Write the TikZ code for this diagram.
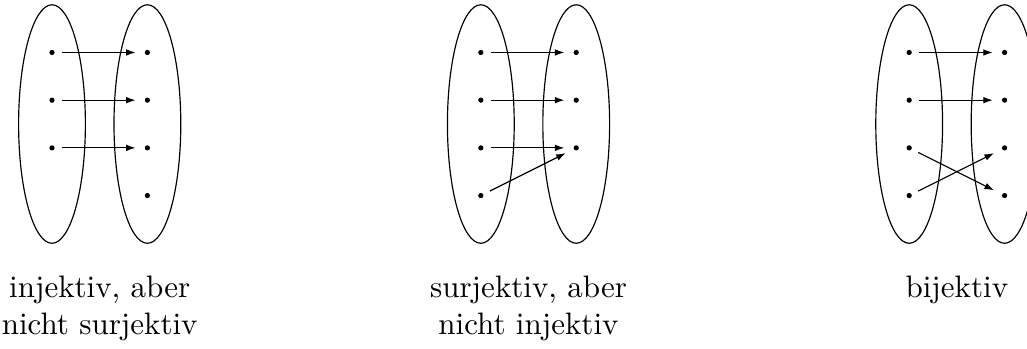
\documentclass[tikz,border=0pt]{standalone}
\usetikzlibrary{arrows.meta}
\begin{document}
\begin{tikzpicture}[
  dotnode/.style={circle,fill=black,inner sep=0pt,minimum size=0.11cm},
  arr/.style={-{Latex[length=0.2cm,width=0.14cm]},line width=0.7pt,shorten <=0.15cm,shorten >=0.185cm},
  setell/.style={draw,line width=0.7pt},
  lbl/.style={align=center,inner sep=0pt,scale=1.85,transform shape,anchor=base}
]
\useasboundingbox (0,0) rectangle (21.53,-7.3);
\clip (0,0) rectangle (21.53,-7.3);
% ---------- injektiv ----------
\draw[setell] (1.09,-2.6) ellipse [x radius=0.7,y radius=2.5];
\draw[setell] (3.09,-2.6) ellipse [x radius=0.7,y radius=2.5];
\node[dotnode] (a1) at (1.09,-1.1) {};
\node[dotnode] (a2) at (1.09,-2.1) {};
\node[dotnode] (a3) at (1.09,-3.1) {};
\node[dotnode] (b1) at (3.09,-1.1) {};
\node[dotnode] (b2) at (3.09,-2.1) {};
\node[dotnode] (b3) at (3.09,-3.1) {};
\node[dotnode] (b4) at (3.09,-4.1) {};
\draw[arr] (a1) -- (b1);
\draw[arr] (a2) -- (b2);
\draw[arr] (a3) -- (b3);
\node[lbl] (la) at (2.09,-7.02) {injektiv, aber\\nicht surjektiv};
% ---------- surjektiv ----------
\draw[setell] (10.08,-2.6) ellipse [x radius=0.7,y radius=2.5];
\draw[setell] (12.08,-2.6) ellipse [x radius=0.7,y radius=2.5];
\node[dotnode] (c1) at (10.08,-1.1) {};
\node[dotnode] (c2) at (10.08,-2.1) {};
\node[dotnode] (c3) at (10.08,-3.1) {};
\node[dotnode] (c4) at (10.08,-4.1) {};
\node[dotnode] (d1) at (12.08,-1.1) {};
\node[dotnode] (d2) at (12.08,-2.1) {};
\node[dotnode] (d3) at (12.08,-3.1) {};
\draw[arr] (c1) -- (d1);
\draw[arr] (c2) -- (d2);
\draw[arr] (c3) -- (d3);
\draw[arr] (c4) -- (d3);
\node[lbl] (lb) at (11.08,-7.02) {surjektiv, aber\\nicht injektiv};
% ---------- bijektiv ----------
\draw[setell] (19.06,-2.6) ellipse [x radius=0.7,y radius=2.5];
\draw[setell] (21.06,-2.6) ellipse [x radius=0.7,y radius=2.5];
\node[dotnode] (e1) at (19.06,-1.1) {};
\node[dotnode] (e2) at (19.06,-2.1) {};
\node[dotnode] (e3) at (19.06,-3.1) {};
\node[dotnode] (e4) at (19.06,-4.1) {};
\node[dotnode] (f1) at (21.06,-1.1) {};
\node[dotnode] (f2) at (21.06,-2.1) {};
\node[dotnode] (f3) at (21.06,-3.1) {};
\node[dotnode] (f4) at (21.06,-4.1) {};
\draw[arr] (e1) -- (f1);
\draw[arr] (e2) -- (f2);
\draw[arr] (e3) -- (f4);
\draw[arr] (e4) -- (f3);
\node[lbl] (lc) at (20.06,-6.24) {bijektiv};
\end{tikzpicture}
\end{document}
